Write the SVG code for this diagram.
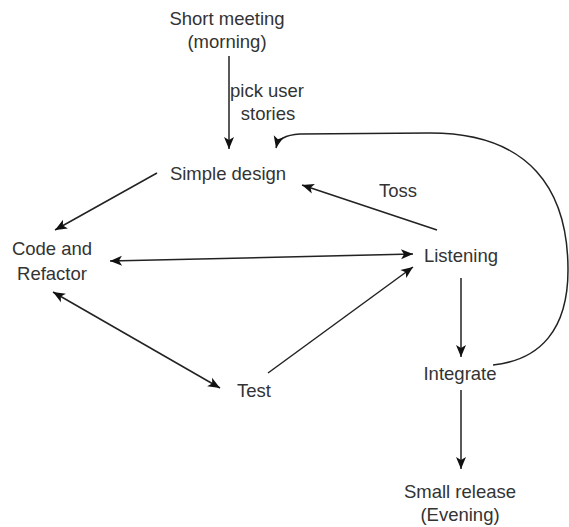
<svg xmlns="http://www.w3.org/2000/svg" width="569" height="527" viewBox="0 0 569 527">
<style>
text{font-family:"Liberation Sans",Arial,sans-serif;font-size:18.5px;fill:#333;text-anchor:middle}
.e{fill:none;stroke:#222;stroke-width:1.5}
</style>
<defs>
<marker id="a" markerUnits="userSpaceOnUse" markerWidth="14" markerHeight="12" refX="13" refY="6" orient="auto-start-reverse">
<path d="M1,1 L13,6 L1,11 L4,6 Z" fill="#111"/>
</marker>
</defs>
<rect width="569" height="527" fill="#fff"/>
<g id="connectors">
<line class="e" x1="229" y1="56" x2="229" y2="149" marker-end="url(#a)"/>
<line class="e" x1="157" y1="173" x2="55" y2="230" marker-end="url(#a)"/>
<line class="e" x1="437" y1="230" x2="302" y2="185" marker-end="url(#a)"/>
<line class="e" x1="110" y1="261" x2="413" y2="254" marker-start="url(#a)" marker-end="url(#a)"/>
<line class="e" x1="53" y1="292" x2="220" y2="388" marker-start="url(#a)" marker-end="url(#a)"/>
<line class="e" x1="268" y1="373" x2="413" y2="267" marker-end="url(#a)"/>
<line class="e" x1="461" y1="278" x2="461" y2="357" marker-end="url(#a)"/>
<line class="e" x1="461" y1="390" x2="461" y2="469" marker-end="url(#a)"/>
<path class="e" d="M493,365 C540,360 568,330 568,270 C568,190 530,133 430,133 L300,134 C285,135 278,139 276,148" marker-end="url(#a)"/>
<text x="267" y="97">pick user</text>
<text x="268" y="120">stories</text>
<text x="398" y="197">Toss</text>
</g>
<g id="short-meeting"><text x="227" y="25">Short meeting</text><text x="227" y="48">(morning)</text></g>
<g id="simple-design"><text x="228" y="180">Simple design</text></g>
<g id="code-refactor"><text x="52" y="255">Code and</text><text x="52" y="280">Refactor</text></g>
<g id="listening"><text x="461" y="262">Listening</text></g>
<g id="test"><text x="254" y="397">Test</text></g>
<g id="integrate"><text x="460" y="380">Integrate</text></g>
<g id="small-release"><text x="460" y="498">Small release</text><text x="460" y="521">(Evening)</text></g>
</svg>
